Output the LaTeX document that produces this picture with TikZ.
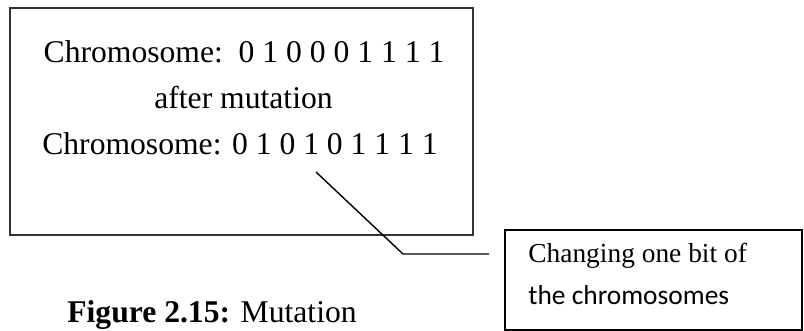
\documentclass[tikz,border=0pt]{standalone}
\usepackage{fontspec}
\setmainfont{Liberation Serif}
\newfontfamily\notefont{Carlito}
\usetikzlibrary{positioning}

\tikzset{
  bigtext/.style={font=\fontsize{18}{22}\selectfont, anchor=base, inner sep=0pt},
  notetext/.style={font=\fontsize{15.6}{19}\selectfont, anchor=base west, inner sep=0pt},
}

\begin{document}
\begin{tikzpicture}
\useasboundingbox (0,0) rectangle (16.08,6.62);
% chromosome before and after mutation
\node[draw=black!80, line width=1.5pt, minimum width=9.26cm, minimum height=4.54cm] (mainbox) at (4.83,4.19) {};
\node[bigtext] (before) at (4.88,5.36) {Chromosome:\ \ 0 1 0 0 0 1 1 1 1};
\node[bigtext] (mid) at (4.87,4.44) {after mutation};
\node[bigtext] (after) at (4.80,3.52) {Chromosome: 0 1 0 1 0 1 1 1 1};

% note box
\node[draw, line width=0.8pt, minimum width=5.94cm, minimum height=2.0cm] (notebox) at (13.07,1.02) {};
\node[notetext] (note1) at (10.56,1.36) {Changing one bit of};
\node[notetext] (note2) at (10.56,0.52) {\notefont the chromosomes};

% leader line from the flipped bit
\coordinate (bit) at (6.32,3.18);
\coordinate (elbow) at (8.06,1.54);
\coordinate (lead) at (9.78,1.54);
\draw[line width=0.8pt] (bit) -- (elbow) -- (lead);

\node[font=\fontsize{18}{22}\selectfont, anchor=base west, inner sep=0pt] (caption) at (1.34,0.16) {\textbf{Figure 2.15:} Mutation};
\end{tikzpicture}
\end{document}
